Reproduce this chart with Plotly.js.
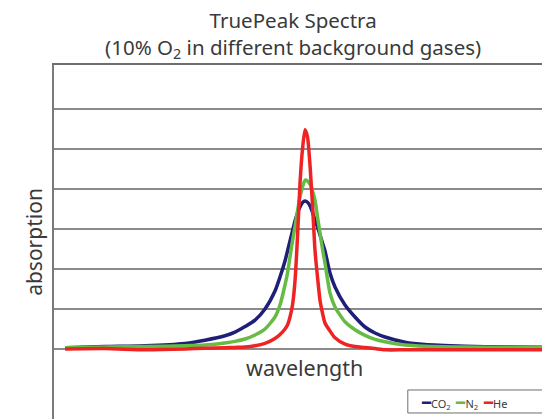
<!DOCTYPE html>
<html>
<head>
<meta charset="utf-8">
<script src="https://cdn.plot.ly/plotly-3.0.1.min.js"></script>
<style>
  html, body { margin: 0; padding: 0; overflow: hidden; background: #fff; }
  #chart { width: 542px; height: 419px; }
</style>
</head>
<body>
<div id="chart"></div>
<script>
// Wavelength offset from line centre (arbitrary units)
const wavelength = [-24,-20,-16,-12,-10,-8,-7,-6,-5,-4,-3,-2.5,-2,-1.75,-1.5,-1.25,-1,-0.75,-0.5,-0.25,0,0.25,0.5,0.75,1,1.25,1.5,1.75,2,2.5,3,4,5,6,7,8,10,12,16,20,24];

// Absorption (arbitrary units) for 10% O2 in each background gas
const co2 = [0.03,0.06,0.08,0.14,0.22,0.33,0.42,0.56,0.72,1.0,1.45,1.8,2.2,2.45,2.7,2.95,3.2,3.4,3.55,3.66,3.7,3.67,3.58,3.42,3.22,3.05,2.85,2.65,2.45,1.9,1.55,1.1,0.8,0.55,0.4,0.3,0.17,0.11,0.07,0.05,0.04];
const n2  = [0.03,0.05,0.06,0.08,0.1,0.15,0.19,0.25,0.35,0.5,0.8,1.1,1.6,1.9,2.3,2.7,3.06,3.45,3.8,4.05,4.22,4.2,4.12,3.95,3.72,3.3,2.9,2.5,2.15,1.4,1.05,0.68,0.48,0.34,0.24,0.18,0.1,0.07,0.05,0.04,0.04];
const he  = [0.0,0.01,-0.02,0.0,0.02,0.03,0.04,0.05,0.08,0.14,0.26,0.36,0.5,0.6,0.8,1.1,1.7,2.8,4.14,5.0,5.48,5.3,4.6,3.6,2.47,1.8,1.22,0.9,0.65,0.45,0.28,0.12,0.06,0.04,0.01,-0.02,-0.02,-0.02,-0.02,-0.02,-0.02];

const seriesNames = ['CO<sub>2</sub>', 'N<sub>2</sub>', 'He'];
const seriesColors = ['#1f1f78', '#66bb44', '#ee2424'];
const gridValues = [0,1,2,3,4,5,6];

const FONT = '"Noto Sans", "Open Sans", sans-serif';
const series = [co2, n2, he];

const traces = series.map((ys, i) => ({
  x: wavelength, y: ys, type: 'scatter', mode: 'lines',
  name: seriesNames[i],
  line: { color: seriesColors[i], width: 3.5, shape: 'spline', smoothing: 0.6 },
  showlegend: false,
  hoverinfo: 'skip'
}));

const legendText = seriesNames.map((n, i) =>
  '<span style="color:' + seriesColors[i] + ';font-size:15px">━</span>' + n).join('  ');

const layout = {
  width: 542, height: 419,
  margin: { l: 54, r: 0, t: 65, b: 0, pad: 0 },
  paper_bgcolor: '#fff', plot_bgcolor: '#fff',
  font: { family: FONT, color: '#3a3a3a' },
  title: {
    text: 'TruePeak Spectra<br>(10% O<sub>2</sub> in different background gases)',
    x: 0.49, xref: 'paper', xanchor: 'center',
    y: 0.933, yref: 'container', yanchor: 'top',
    font: { family: FONT, size: 20.5, color: '#3a3a3a' }
  },
  xaxis: {
    range: [-25.1, 23.7], showgrid: false, zeroline: false,
    showticklabels: false, ticks: '', side: 'top',
    showline: true, linecolor: '#6e6e6e', linewidth: 2, fixedrange: true
  },
  yaxis: {
    range: [-1.75, 7.1], tickvals: gridValues, showticklabels: false, ticks: '',
    showgrid: true, gridcolor: '#8a8a8a', gridwidth: 2, zeroline: false,
    showline: true, linecolor: '#7a7a7a', linewidth: 2, fixedrange: true,
    title: { text: 'absorption', font: { family: FONT, size: 21, color: '#3a3a3a' }, standoff: 4 }
  },
  annotations: [
    { text: 'wavelength', xref: 'paper', yref: 'y', x: 0.514, y: -0.45,
      showarrow: false, xanchor: 'center', yanchor: 'middle',
      font: { family: FONT, size: 21.5, color: '#3a3a3a' } },
    { text: legendText, xref: 'paper', yref: 'paper', x: 0.748, y: 0.049,
      showarrow: false, xanchor: 'left', yanchor: 'middle',
      font: { family: FONT, size: 11, color: '#3a3a3a' } }
  ],
  shapes: [
    { type: 'rect', xref: 'paper', yref: 'paper', x0: 0.725, x1: 1.02, y0: 0.017, y1: 0.082,
      line: { color: '#6e6e6e', width: 1 }, fillcolor: '#fff', layer: 'above' }
  ]
};

Plotly.newPlot('chart', traces, layout, { displayModeBar: false, staticPlot: true });
</script>
</body>
</html>
